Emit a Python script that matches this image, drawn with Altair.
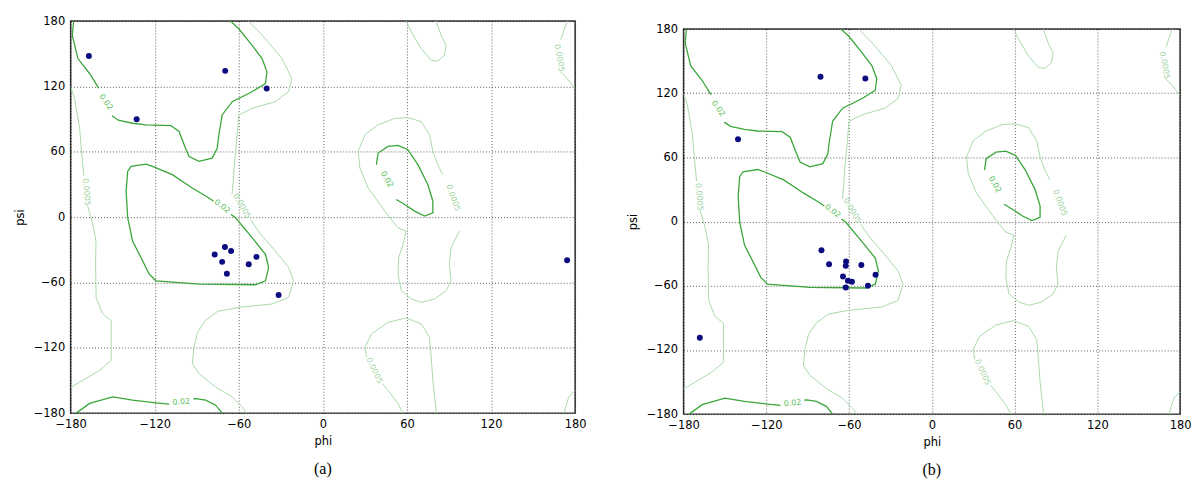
import altair as alt
import pandas as pd

# ---------------- scatter points (phi, psi) ----------------
A_PHI = [-167.0, -132.9, -69.7, -40.1, -77.2, -69.9, -65.5, -71.9, -68.5, -52.9, -47.4, -31.6, 174.3]
A_PSI = [148.0, 89.8, 134.3, 118.1, -34.4, -27.4, -31.1, -41.1, -52.1, -43.2, -36.5, -71.5, -39.6]

B_PHI = [-140.5, -80.7, -48.2, -80.0, -74.5, -62.2, -62.4, -51.1, -64.4, -60.8, -57.9, -62.4, -46.3, -40.8, -168.2]
B_PSI = [77.0, 135.4, 133.8, -26.8, -39.8, -37.4, -41.4, -40.5, -51.3, -55.3, -56.3, -61.6, -60.0, -49.8, -108.6]

TICKS = [-180, -120, -60, 0, 60, 120, 180]

# ---------------- contour level 0.02 ----------------
BETA1_PHI = [-177.9, -178.8, -174.8, -166.5, -160.0]
BETA1_PSI = [180.0, 166.9, 145.6, 131.9, 118.5]
BETA2_PHI = [-150.5, -146.0, -135.8, -126.2, -108.5, -102.6, -99.0, -95.5, -88.4, -79.0, -75.4, -74.2, -71.9,
             -64.7, -50.5, -41.0, -39.9, -43.4, -50.5, -60.0, -65.9]
BETA2_PSI = [93.0, 89.0, 86.2, 84.7, 84.1, 78.6, 66.4, 55.7, 51.2, 54.2, 63.3, 75.6, 93.8,
             106.0, 115.1, 122.7, 133.4, 145.6, 157.8, 173.0, 180.0]
BOT1_PHI = [-176.0, -166.5, -150.0, -135.8, -119.1, -109.7]
BOT1_PSI = [-180.0, -171.1, -165.1, -168.1, -170.6, -171.8]
BOT2_PHI = [-92.5, -90.7, -83.6, -76.5, -71.9]
BOT2_PSI = [-167.0, -166.6, -168.1, -172.7, -180.0]
ALPHA_PHI = [-65.5, -62.3, -50.5, -41.0, -38.7, -41.0, -48.1, -88.4, -119.1, -123.9, -131.0, -135.8, -139.3,
             -140.4, -139.3, -136.9, -126.2, -121.6, -107.4, -93.2, -81.3, -78.0]
ALPHA_PSI = [2.5, -0.6, -18.9, -34.1, -46.3, -58.5, -62.1, -61.5, -58.5, -52.4, -34.1, -21.9, -0.6,
             23.8, 42.0, 46.6, 48.7, 46.6, 39.0, 26.8, 17.6, 14.5]
LH_PHI = [38.2, 39.4, 46.5, 53.6, 60.7, 67.8, 74.9, 78.5, 78.5, 72.6, 65.5, 58.4, 52.4]
LH_PSI = [48.2, 58.8, 64.9, 65.8, 61.9, 48.2, 29.9, 14.6, 3.9, 0.9, 5.5, 11.6, 16.2]

# ---------------- contour level 0.0005 ----------------
LEFT1_PHI = [-180.0, -177.2, -173.6, -172.4, -170.6]
LEFT1_PSI = [119.7, 109.0, 81.6, 63.3, 38.0]
LEFT2_PHI = [-167.9, -164.4, -161.9, -162.2, -161.8, -157.1, -151.1, -151.1, -151.1, -159.4, -171.3, -180.0]
LEFT2_PSI = [10.0, -5.5, -21.9, -43.2, -73.8, -88.9, -95.0, -119.4, -131.6, -140.7, -149.8, -156.5]
BIG1_PHI = [-52.9, -41.0, -29.2, -22.1, -24.5, -33.9, -50.5, -60.0, -61.2, -63.0, -64.0, -64.8]
BIG1_PSI = [180.0, 163.8, 145.6, 127.3, 115.1, 106.0, 99.9, 93.8, 75.6, 51.2, 32.9, 21.0]
BIG2_PHI = [-51.5, -45.1, -33.9, -24.5, -20.9, -24.5, -36.3, -60.0, -75.0, -84.0, -89.5, -92.0, -93.2,
            -88.4, -76.5, -64.8, -57.7, -54.1]
BIG2_PSI = [-2.5, -14.6, -31.1, -46.3, -58.5, -73.7, -79.8, -82.9, -86.5, -95.0, -106.0, -119.4, -134.6,
            -143.7, -156.0, -165.1, -174.2, -180.0]
LHL_PHI = [97.4, 91.5, 90.3, 91.5, 87.9, 79.7, 70.2, 63.1, 56.0, 53.6, 54.1, 57.2, 59.5, 53.6, 44.2,
           32.3, 26.4, 25.2, 30.0, 39.4, 51.3, 60.7, 70.2, 76.1, 78.5, 82.0, 85.6]
LHL_PSI = [-12.8, -28.0, -43.2, -58.5, -67.6, -75.2, -78.3, -75.2, -67.6, -52.4, -37.2, -24.9, -12.8, -9.8, 5.5,
           26.8, 45.0, 60.3, 75.6, 84.7, 90.7, 91.4, 87.7, 75.6, 60.3, 48.2, 39.0]
LOW1_PHI = [81.0, 78.5, 77.3, 76.1, 70.2, 59.5, 46.5, 34.7, 30.0, 31.1]
LOW1_PSI = [-180.0, -149.8, -128.6, -110.3, -98.0, -92.6, -96.6, -107.2, -119.4, -128.6]
LOW2_PHI = [42.5, 46.5, 53.6, 57.2]
LOW2_PSI = [-153.0, -159.0, -171.1, -180.0]
TOP_PHI = [59.5, 63.1, 70.2, 77.3, 82.0, 86.8, 87.9, 84.4, 80.8]
TOP_PSI = [180.0, 170.0, 154.7, 144.1, 143.2, 148.7, 157.8, 166.9, 180.0]
RT1_PHI = [174.3, 169.8]
RT1_PSI = [180.0, 163.0]
RT2_PHI = [170.0, 174.3, 177.9, 180.0]
RT2_PSI = [133.0, 127.3, 121.2, 118.1]
RB_PHI = [180.0, 175.5, 172.0]
RB_PSI = [-159.0, -165.1, -180.0]

# ---------------- contour labels ----------------
LABEL_TEXT = ["0.02", "0.02", "0.02", "0.02", "0.0005", "0.0005", "0.0005", "0.0005", "0.0005"]
LABEL_PHI = [-155.0, -101.0, -72.0, 45.5, -169.0, -58.0, 92.7, 36.5, 168.5]
LABEL_PSI = [105.5, -170.0, 9.5, 34.5, 23.0, 10.0, 17.6, -141.0, 146.0]
LABEL_ANGLE = [55, 355, 37, 60, 85, 60, 70, 65, 80]
LABEL_LEVEL = ["hi", "hi", "hi", "hi", "lo", "lo", "lo", "lo", "lo"]

DARK = "#3aa63a"
LIGHT = "#a9daa9"
DARK_TXT = "#5cbf5c"
LIGHT_TXT = "#9fd59f"
NAVY = "#0c0c80"

SEGMENTS = [
    ("beta1", "hi", BETA1_PHI, BETA1_PSI), ("beta2", "hi", BETA2_PHI, BETA2_PSI),
    ("bot1", "hi", BOT1_PHI, BOT1_PSI), ("bot2", "hi", BOT2_PHI, BOT2_PSI),
    ("alpha", "hi", ALPHA_PHI, ALPHA_PSI), ("lh", "hi", LH_PHI, LH_PSI),
    ("left1", "lo", LEFT1_PHI, LEFT1_PSI), ("left2", "lo", LEFT2_PHI, LEFT2_PSI),
    ("big1", "lo", BIG1_PHI, BIG1_PSI), ("big2", "lo", BIG2_PHI, BIG2_PSI),
    ("lhl", "lo", LHL_PHI, LHL_PSI), ("low1", "lo", LOW1_PHI, LOW1_PSI),
    ("low2", "lo", LOW2_PHI, LOW2_PSI), ("top", "lo", TOP_PHI, TOP_PSI),
    ("rt1", "lo", RT1_PHI, RT1_PSI), ("rt2", "lo", RT2_PHI, RT2_PSI),
    ("rb", "lo", RB_PHI, RB_PSI),
]

rows = []
for name, lev, ph, ps in SEGMENTS:
    for i, (p, q) in enumerate(zip(ph, ps)):
        rows.append({"seg": name, "i": i, "phi": p, "psi": q,
                     "col": DARK if lev == "hi" else LIGHT,
                     "w": 1.3 if lev == "hi" else 1.0})
cont_df = pd.DataFrame(rows)

lab_df = pd.DataFrame({
    "text": LABEL_TEXT, "phi": LABEL_PHI, "psi": LABEL_PSI, "angle": LABEL_ANGLE,
    "col": [DARK_TXT if l == "hi" else LIGHT_TXT for l in LABEL_LEVEL],
})


def panel(phi, psi, w, h, caption):
    x = alt.X("phi:Q", scale=alt.Scale(domain=[-180, 180], nice=False, zero=False),
              axis=alt.Axis(values=TICKS, title="phi", format="d"))
    y = alt.Y("psi:Q", scale=alt.Scale(domain=[-180, 180], nice=False, zero=False),
              axis=alt.Axis(values=TICKS, title="psi", format="d"))
    lines = alt.Chart(cont_df).mark_line(clip=True).encode(
        x=x, y=y, detail="seg:N", order="i:Q",
        color=alt.Color("col:N", scale=None),
        strokeWidth=alt.StrokeWidth("w:Q", scale=None),
    )
    labels = alt.Chart(lab_df).mark_text(font="DejaVu Sans", fontSize=8).encode(
        x=x, y=y, text="text:N",
        angle=alt.Angle("angle:Q", scale=None),
        color=alt.Color("col:N", scale=None),
    )
    pts = alt.Chart(pd.DataFrame({"phi": phi, "psi": psi})).mark_circle(
        size=36, color=NAVY, opacity=1
    ).encode(x=x, y=y)
    return alt.layer(lines, labels, pts).properties(
        width=w, height=h,
        title=alt.TitleParams(caption, orient="bottom", font="Liberation Serif", fontSize=16,
                              fontWeight="normal", color="black", offset=14, anchor="middle"),
    )


pa = panel(A_PHI, A_PSI, 507, 394, "(a)")
pb = panel(B_PHI, B_PSI, 499, 387, "(b)")

spacer = alt.Chart(pd.DataFrame({"v": [0]})).mark_point(opacity=0, size=1).encode(
    x=alt.value(0), y=alt.value(0)
).properties(width=1, height=1, view=alt.ViewBackground(strokeOpacity=0))

right = alt.vconcat(spacer, pb, spacing=0)

chart = alt.hconcat(pa, right, spacing=39).properties(
    padding={"left": 13, "top": 13, "right": 0, "bottom": 0}
).configure_view(
    stroke="#333333", strokeWidth=1.5
).configure_axis(
    domain=False, ticks=False, grid=True, gridColor="#000000", gridDash=[1, 2], gridWidth=0.8,
    gridOpacity=0.8, labelFont="DejaVu Sans", labelFontSize=11.5, labelColor="black",
    labelPadding=5, titleFont="DejaVu Sans", titleFontSize=11.5, titleFontWeight="normal",
    titleColor="black", labelFlush=False, labelOverlap=False, titlePadding=6,
).configure_axisY(labelPadding=6, titlePadding=8)

chart.save("out.html", embed_options={"renderer": "svg", "actions": False})
